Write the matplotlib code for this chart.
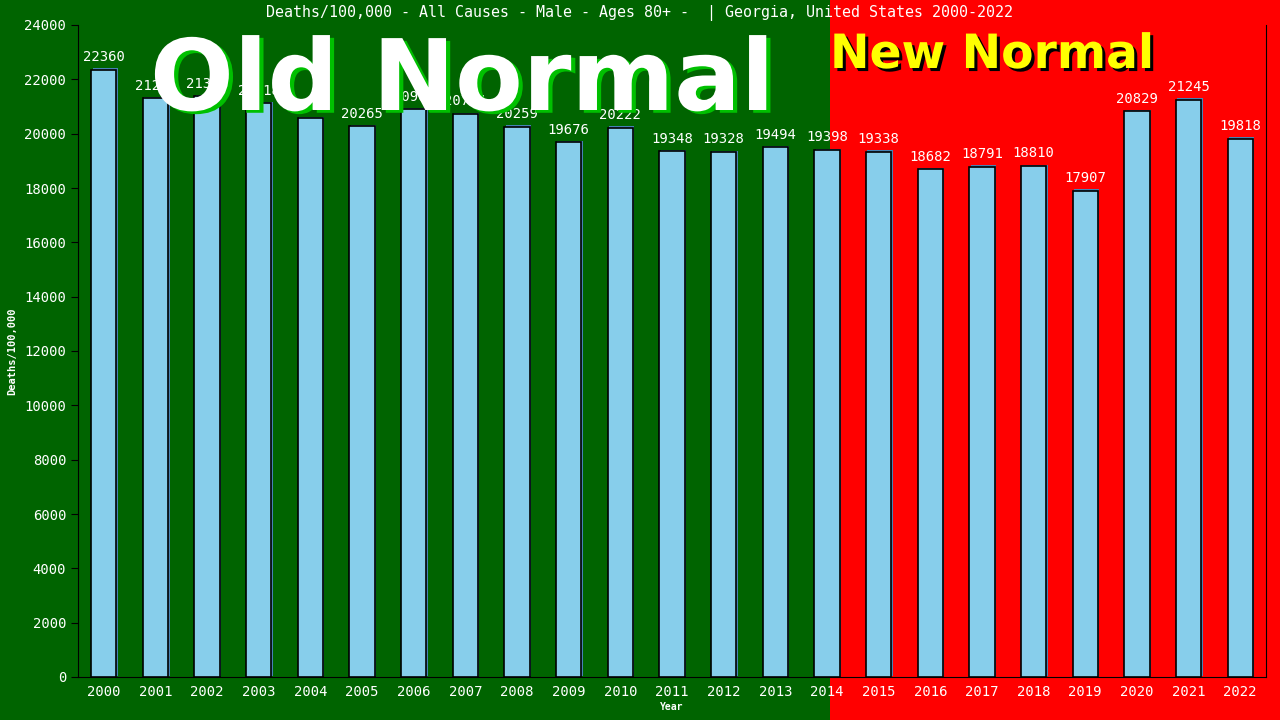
import matplotlib
matplotlib.use("Agg")
import matplotlib.pyplot as plt
import matplotlib.patheffects as pe
from matplotlib.patches import Rectangle
from matplotlib.transforms import blended_transform_factory

years = [str(y) for y in range(2000, 2023)]
rates = [22360, 21296, 21379, 21118, 20569, 20265, 20903, 20724, 20259, 19676,
         20222, 19348, 19328, 19494, 19398, 19338, 18682, 18791, 18810, 17907,
         20829, 21245, 19818]
y_ticks = list(range(0, 24001, 2000))

title = "Deaths/100,000 - All Causes - Male - Ages 80+ -  | Georgia, United States 2000-2022"
mono = "DejaVu Sans Mono"
green_bg = "#006400"
red_bg = "#ff0000"

fig = plt.figure(figsize=(12.8, 7.2), dpi=100)
fig.patch.set_facecolor(green_bg)
ax = fig.add_axes([78 / 1280, 43 / 720, 1188 / 1280, 652 / 720])
ax.set_facecolor("none")

x = list(range(len(years)))
ax.bar(x, rates, width=0.49, color="skyblue", edgecolor="black", linewidth=1.2, zorder=3,
       path_effects=[pe.SimplePatchShadow(offset=(1.0, 1.0), shadow_rgbFace="#4682b4", alpha=1),
                     pe.Normal()])
for xi, v in zip(x, rates):
    ax.annotate(str(v), (xi, v), xytext=(0, 4), textcoords="offset points",
                ha="center", va="bottom", color="white", family=mono, fontsize=10, zorder=4)

ax.set_xlim(-0.5, len(years) - 0.5)
ax.set_ylim(0, 24000)
ax.set_xticks(x)
ax.set_xticklabels(years, family=mono, fontsize=10, color="white")
ax.set_yticks(y_ticks)
ax.set_yticklabels([str(t) for t in y_ticks], family=mono, fontsize=10, color="white")
ax.tick_params(axis="x", length=0, pad=6)
ax.tick_params(axis="y", length=5, color="black", direction="out")
ax.spines["top"].set_visible(False)
for s in ["left", "right", "bottom"]:
    ax.spines[s].set_color("black")
ax.set_xlabel("Year", family=mono, fontsize=7, fontweight="bold", color="white", labelpad=2)
ax.set_ylabel("Deaths/100,000", family=mono, fontsize=7.5, fontweight="bold", color="white", labelpad=5)

# red "new normal" background from mid-2014 onward
trans = blended_transform_factory(ax.transData, fig.transFigure)
fig.patches.append(Rectangle((14.05, 0), 20, 1, transform=trans, facecolor=red_bg,
                             edgecolor="none", zorder=-10, figure=fig))

fig.text(0.5, 1 - 13 / 720, title, ha="center", va="center", family=mono,
         fontsize=10.8, color="white")

fig.text(150 / 1280, 1 - 110 / 720, "Old Normal", ha="left", va="baseline",
         fontsize=71, fontweight="bold", family="DejaVu Sans", color="white", zorder=10,
         path_effects=[pe.withSimplePatchShadow(offset=(3, -2), shadow_rgbFace="#00c000", alpha=1)])
fig.text(830 / 1280, 1 - 68 / 720, "New Normal", ha="left", va="baseline",
         fontsize=34, fontweight="bold", family="DejaVu Sans", color="#ffff00", zorder=10,
         path_effects=[pe.withSimplePatchShadow(offset=(2.2, -2.2), shadow_rgbFace="black", alpha=1)])

fig.savefig("out.png", dpi=100, facecolor=fig.get_facecolor())
